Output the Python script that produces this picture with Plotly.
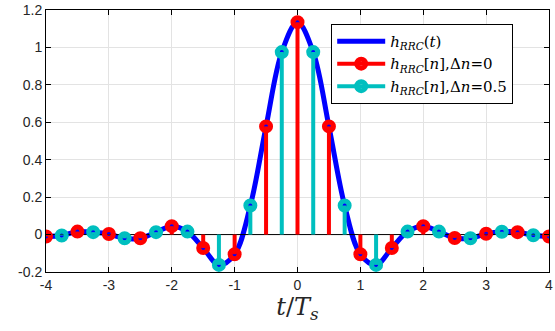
import plotly.graph_objects as go

# sample times (in units of Ts)
t_red = [-4, -3.5, -3, -2.5, -2, -1.5, -1, -0.5, 0, 0.5, 1, 1.5, 2, 2.5, 3, 3.5, 4]
h_red = [-0.01, 0.016, 0.003, -0.02, 0.045, -0.072, -0.105, 0.578, 1.135,
         0.578, -0.105, -0.072, 0.045, -0.018, 0.004, 0.013, -0.01]
t_cyan = [-3.75, -3.25, -2.75, -2.25, -1.75, -1.25, -0.75, -0.25,
          0.25, 0.75, 1.25, 1.75, 2.25, 2.75, 3.25, 3.75]
h_cyan = [-0.005, 0.013, -0.02, 0.013, 0.016, -0.162, 0.155, 0.975,
          0.975, 0.155, -0.162, 0.016, 0.016, -0.02, 0.015, -0.004]

# continuous curve (merged samples)
t_curve = sorted(t_red + t_cyan)
h_curve = [dict(zip(t_red + t_cyan, h_red + h_cyan))[t] for t in t_curve]

BLUE = "#0000FF"
RED = "#FF0000"
CYAN = "#00BFBF"

SUB = '<sub><i>RRC</i></sub>'

fig = go.Figure()

fig.add_trace(go.Scatter(x=t_curve, y=h_curve, mode="lines",
                         line=dict(color=BLUE, width=5, shape="spline", smoothing=1.0),
                         name="<i>h</i>" + SUB + "(<i>t</i>)"))

# stem baseline
fig.add_trace(go.Scatter(x=[-4, 4], y=[0, 0], mode="lines",
                         line=dict(color="black", width=1), showlegend=False, hoverinfo="skip"))


def add_stems(ts, hs, color, name):
    xs, ys = [], []
    for t, h in zip(ts, hs):
        xs += [t, t, None]
        ys += [0, h, None]
    fig.add_trace(go.Scatter(x=xs, y=ys, mode="lines", line=dict(color=color, width=4),
                             showlegend=False, legendgroup=name, hoverinfo="skip"))
    fig.add_trace(go.Scatter(x=ts, y=hs, mode="markers",
                             marker=dict(symbol="circle-open", size=9, color=color,
                                         line=dict(color=color, width=5)),
                             showlegend=False, legendgroup=name))
    fig.add_trace(go.Scatter(x=[None], y=[None], mode="lines+markers", name=name,
                             legendgroup=name,
                             line=dict(color=color, width=4),
                             marker=dict(symbol="circle-open", size=9, color=color,
                                         line=dict(color=color, width=5))))


add_stems(t_red, h_red, RED, "<i>h</i>" + SUB + "[<i>n</i>],Δ<i>n</i>=0")
add_stems(t_cyan, h_cyan, CYAN, "<i>h</i>" + SUB + "[<i>n</i>],Δ<i>n</i>=0.5")

axis_common = dict(showline=True, linecolor="black", linewidth=1, mirror="ticks",
                   ticks="inside", ticklen=5, tickcolor="black",
                   showgrid=True, gridcolor="#E3E3E3", gridwidth=1, zeroline=False,
                   tickfont=dict(family="Liberation Sans, Arial", size=14, color="#262626"))

fig.update_xaxes(range=[-4, 4], tickvals=[-4, -3, -2, -1, 0, 1, 2, 3, 4],
                 ticktext=["-4", "-3", "-2", "-1", "0", "1", "2", "3", "4"],
                 title=dict(text="<i>t</i>/<i>T</i><sub><i>s</i></sub>",
                            font=dict(family="DejaVu Serif", size=24, color="#262626"),
                            standoff=5),
                 automargin=False,
                 **axis_common)
fig.update_yaxes(range=[-0.2, 1.2], tickvals=[-0.2, 0, 0.2, 0.4, 0.6, 0.8, 1, 1.2],
                 ticktext=["-0.2", "0", "0.2", "0.4", "0.6", "0.8", "1", "1.2"],
                 automargin=False,
                 **axis_common)

fig.update_layout(
    width=555, height=331,
    margin=dict(l=46, r=6, t=10, b=59),
    plot_bgcolor="white", paper_bgcolor="white",
    showlegend=True,
    legend=dict(x=0.567, y=0.947, xanchor="left", yanchor="top",
                bgcolor="white", bordercolor="black", borderwidth=1,
                font=dict(family="DejaVu Serif", size=15, color="black"),
                itemwidth=48, tracegroupgap=0),
)

fig.write_html("out.html", config={"displayModeBar": False},
               post_script="document.body.style.margin='0';document.body.style.overflow='hidden';")
